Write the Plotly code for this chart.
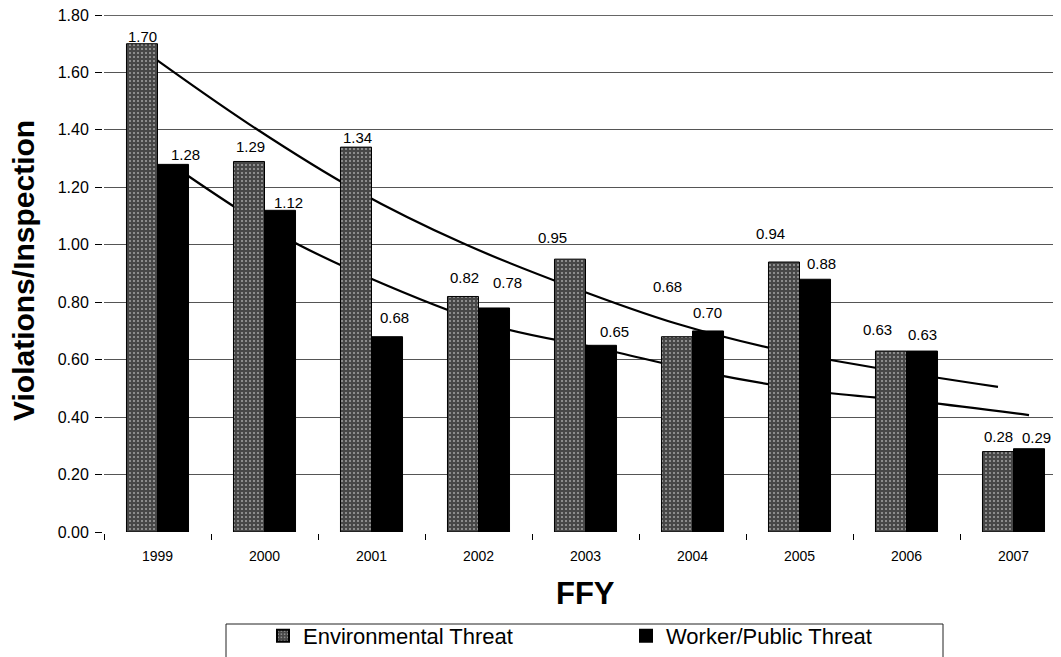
import plotly.graph_objects as go

years = ["1999", "2000", "2001", "2002", "2003", "2004", "2005", "2006", "2007"]
env_vals = [1.70, 1.29, 1.34, 0.82, 0.95, 0.68, 0.94, 0.63, 0.28]
wrk_vals = [1.28, 1.12, 0.68, 0.78, 0.65, 0.70, 0.88, 0.63, 0.29]
# trend lines (at each series' bar centre)
env_trend = [1.68, 1.42, 1.19, 1.005, 0.855, 0.725, 0.63, 0.563, 0.505]
wrk_trend = [1.276, 1.035, 0.858, 0.718, 0.638, 0.553, 0.49, 0.453, 0.407]
y_ticks = [0.0, 0.2, 0.4, 0.6, 0.8, 1.0, 1.2, 1.4, 1.6, 1.8]
y_max = 1.8

# label offsets (style, in px)
env_dx = [-15.5, -14.5, -14.5, -14.5, -33.5, -25.5, -29.5, -29.5, -15.5]
env_dy = [7, 15, 10, 18.5, 21.5, 50, 29, 22, 15.5]
wrk_dx = [27.5, 23.5, 22.5, 28.5, 28.5, 14.5, 21.5, 15.5, 23]
wrk_dy = [10, 8, 19.5, 25, 14, 18, 16, 17, 11]

FONT = "Liberation Sans, Arial, sans-serif"
idx = list(range(len(years)))
bargap = 0.42
half = (1 - bargap) / 4  # half width of one bar in category units

# page body has an 8px margin; target pixel positions are in window coords
OFF = 8
W, H = 1061 - OFF, 657 - OFF
plot_left, plot_top, plot_bottom = 104, 15, 532
L = plot_left - OFF
T = plot_top - OFF
plot_h = plot_bottom - plot_top
B = H - T - plot_h
R = 0
plot_w = W - L - R
cat_px = 107.0


def px_x(p):
    return (p - plot_left) / plot_w


def px_y(p):
    return (plot_bottom - p) / plot_h


fig = go.Figure()
fig.add_trace(go.Bar(
    x=idx, y=env_vals, name="Environmental Threat", zorder=1,
    marker=dict(color="#474747", line=dict(color="black", width=1),
                pattern=dict(shape=".", fgcolor="white", bgcolor="#474747",
                             size=4, solidity=0.2, fillmode="overlay")),
))
fig.add_trace(go.Bar(
    x=idx, y=wrk_vals, name="Worker/Public Threat", zorder=1,
    marker=dict(color="black", line=dict(color="black", width=1)),
))
fig.add_trace(go.Scatter(
    x=[i - half for i in idx], y=env_trend, mode="lines", showlegend=False, zorder=0,
    line=dict(color="black", width=2.2, shape="spline", smoothing=1.0),
))
fig.add_trace(go.Scatter(
    x=[i + half for i in idx], y=wrk_trend, mode="lines", showlegend=False, zorder=0,
    line=dict(color="black", width=2.2, shape="spline", smoothing=1.0),
))

annotations = []
for i, v in enumerate(env_vals):
    annotations.append(dict(x=i, y=v, xref="x", yref="y", text=f"{v:.2f}", showarrow=False,
                            xshift=env_dx[i], yshift=env_dy[i], yanchor="middle",
                            font=dict(family=FONT, size=15, color="black")))
for i, v in enumerate(wrk_vals):
    annotations.append(dict(x=i, y=v, xref="x", yref="y", text=f"{v:.2f}", showarrow=False,
                            xshift=wrk_dx[i], yshift=wrk_dy[i], yanchor="middle",
                            font=dict(family=FONT, size=15, color="black")))
annotations.append(dict(x=px_x(585), y=px_y(593), xref="paper", yref="paper", text="<b>FFY</b>",
                        showarrow=False, xanchor="center", yanchor="middle",
                        font=dict(family=FONT, size=31, color="black")))
annotations.append(dict(x=px_x(23), y=px_y(271), xref="paper", yref="paper",
                        text="<b>Violations/Inspection</b>", textangle=-90,
                        showarrow=False, xanchor="center", yanchor="middle",
                        font=dict(family=FONT, size=30, color="black")))

shapes = [
    dict(type="rect", xref="paper", yref="paper",
         x0=px_x(226), x1=px_x(943), y0=px_y(624), y1=px_y(700),
         line=dict(color="#222", width=1), fillcolor="white", layer="below"),
    dict(type="line", xref="paper", yref="y", x0=0, x1=1, y0=y_max, y1=y_max,
         line=dict(color="#333333", width=1.5), layer="below"),
]

fig.update_layout(
    width=W, height=H,
    margin=dict(l=L, r=R, t=T, b=B, autoexpand=False),
    paper_bgcolor="white", plot_bgcolor="white",
    barmode="group", bargap=bargap, bargroupgap=0,
    font=dict(family=FONT, color="black"),
    annotations=annotations,
    shapes=shapes,
    showlegend=True,
    legend=dict(orientation="h", x=px_x(263), y=px_y(615), xanchor="left", yanchor="top",
                borderwidth=0, bgcolor="rgba(0,0,0,0)",
                entrywidth=318, entrywidthmode="pixels",
                font=dict(family=FONT, size=22, color="black"),
                itemsizing="constant"),
)
fig.update_xaxes(
    range=[-0.5, -0.5 + plot_w / cat_px],
    tickmode="array", tickvals=idx, ticktext=years,
    tickfont=dict(family=FONT, size=14, color="black"),
    ticks="", ticklabelstandoff=10, showgrid=False, zeroline=False,
    showline=True, linecolor="black", linewidth=2,
    minor=dict(ticks="outside", tick0=-0.5, dtick=1, ticklen=6, tickcolor="black",
               tickwidth=1, showgrid=False),
)
fig.update_yaxes(
    range=[0, y_max], tickmode="array", tickvals=y_ticks,
    ticktext=[f"{t:.2f}" for t in y_ticks],
    tickfont=dict(family=FONT, size=16, color="black"),
    ticks="outside", ticklen=7, tickcolor="black", tickwidth=1, ticklabelstandoff=3,
    ticklabeloverflow="allow",
    showgrid=True, gridcolor="#555555", gridwidth=1,
    zeroline=False, showline=True, linecolor="black", linewidth=2,
)

fig.write_html("out.html")
